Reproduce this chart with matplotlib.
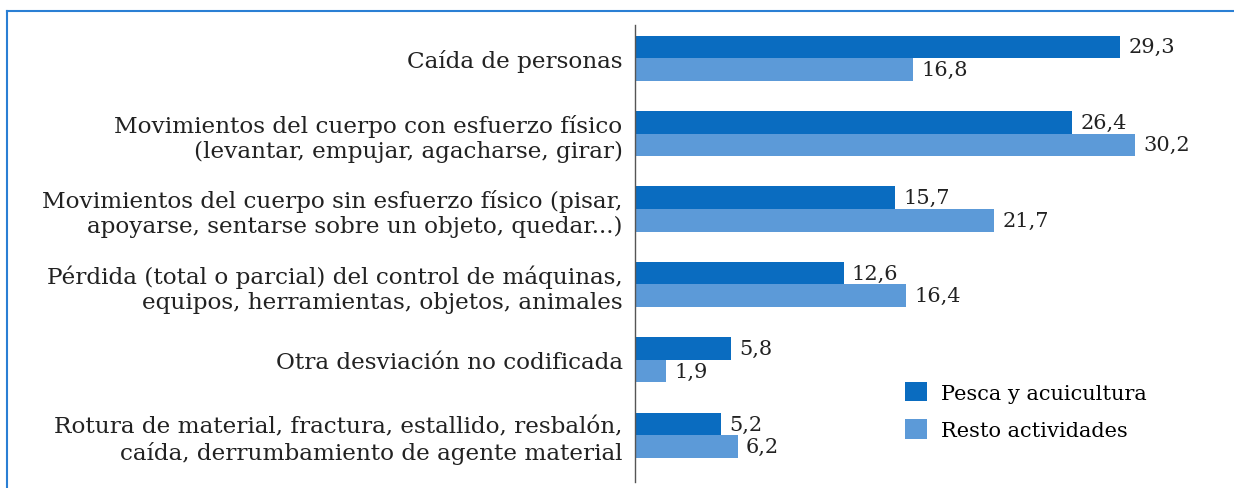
import matplotlib
matplotlib.use('Agg')
import matplotlib.pyplot as plt
from matplotlib.lines import Line2D

categorias = [
    'Caída de personas',
    'Movimientos del cuerpo con esfuerzo físico\n(levantar, empujar, agacharse, girar)',
    'Movimientos del cuerpo sin esfuerzo físico (pisar,\napoyarse, sentarse sobre un objeto, quedar...)',
    'Pérdida (total o parcial) del control de máquinas,\nequipos, herramientas, objetos, animales',
    'Otra desviación no codificada',
    'Rotura de material, fractura, estallido, resbalón,\ncaída, derrumbamiento de agente material',
]
pesca = [29.3, 26.4, 15.7, 12.6, 5.8, 5.2]
resto = [16.8, 30.2, 21.7, 16.4, 1.9, 6.2]
series = ['Pesca y acuicultura', 'Resto actividades']

color_pesca = '#0a6cc0'
color_resto = '#5c9ad8'
frame_color = '#2a7fd4'
fs = 15

plt.rcParams['font.family'] = ['DejaVu Serif']

W, H = 1234, 489
fig = plt.figure(figsize=(W / 100, H / 100), dpi=100)
ax = fig.add_axes([635 / W, 1 - 483 / H, 565 / W, 457 / H])

h = 0.30
pos = list(range(len(categorias)))
ax.barh([p - h / 2 for p in pos], pesca, height=h, color=color_pesca, label=series[0])
ax.barh([p + h / 2 for p in pos], resto, height=h, color=color_resto, label=series[1])

for p, v in zip(pos, pesca):
    ax.text(v + 0.5, p - h / 2, f'{v:.1f}'.replace('.', ','), va='center', ha='left', fontsize=fs, color='#222222')
for p, v in zip(pos, resto):
    ax.text(v + 0.5, p + h / 2, f'{v:.1f}'.replace('.', ','), va='center', ha='left', fontsize=fs, color='#222222')

ax.set_xlim(0, 565 / 16.55)
ax.set_ylim(5.62, -0.44)
ax.set_yticks(pos)
ax.set_yticklabels(categorias, fontsize=16.7, linespacing=1.2, color='#222222')
ax.tick_params(axis='y', length=0, pad=9)
ax.set_xticks([])
for s in ['top', 'right', 'bottom']:
    ax.spines[s].set_visible(False)
ax.spines['left'].set_color('#555555')
ax.spines['left'].set_linewidth(1.0)

ax.legend(loc='upper left', bbox_to_anchor=(905 / W, 1 - 383 / H), bbox_transform=fig.transFigure,
          frameon=False, fontsize=fs, borderpad=0, borderaxespad=0,
          handlelength=1.05, handleheight=1.05, handletextpad=0.7, labelspacing=0.8)

# marco azul (arriba e izquierda)
fig.add_artist(Line2D([7 / W, 1], [1 - 12 / H, 1 - 12 / H], color=frame_color, lw=1.5, transform=fig.transFigure))
fig.add_artist(Line2D([7 / W, 7 / W], [0, 1 - 12 / H], color=frame_color, lw=1.5, transform=fig.transFigure))

plt.savefig('out.png', dpi=100)
plt.close()
